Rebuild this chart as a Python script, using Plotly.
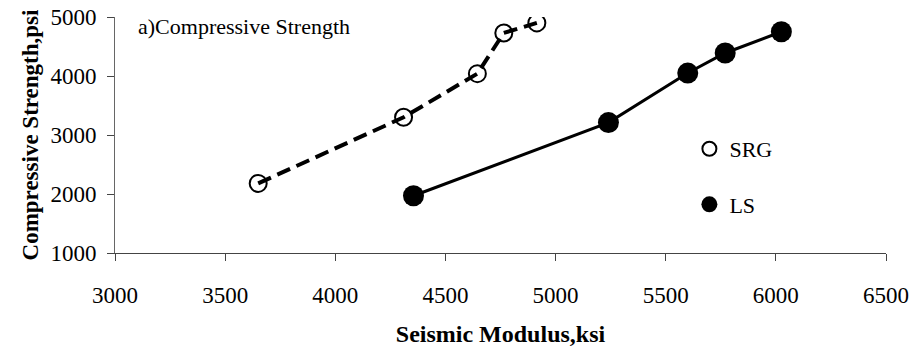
import plotly.graph_objects as go

# Seismic modulus (ksi) vs compressive strength (psi)
srg_modulus = [3650, 4310, 4645, 4765, 4915]
srg_strength = [2180, 3300, 4040, 4730, 4900]

ls_modulus = [4355, 5240, 5600, 5770, 6025]
ls_strength = [1970, 3210, 4050, 4390, 4750]

x_ticks = [3000, 3500, 4000, 4500, 5000, 5500, 6000, 6500]
y_ticks = [1000, 2000, 3000, 4000, 5000]

SERIF = "Liberation Serif, Times New Roman, serif"

fig = go.Figure()

# trend lines with measured points
fig.add_trace(go.Scatter(
    x=srg_modulus, y=srg_strength, mode="lines+markers", showlegend=False,
    line=dict(color="black", width=4, dash="14px,7px"),
    marker=dict(symbol="circle-open", size=17, color="black", line=dict(width=2)),
))
fig.add_trace(go.Scatter(
    x=ls_modulus, y=ls_strength, mode="lines+markers", showlegend=False,
    line=dict(color="black", width=3),
    marker=dict(symbol="circle", size=21, color="black"),
))

# legend entries (markers only)
fig.add_trace(go.Scatter(
    x=[None], y=[None], mode="markers", name="SRG", legendgroup="srg",
    marker=dict(symbol="circle-open", size=14, color="black", line=dict(width=2)),
))
fig.add_trace(go.Scatter(
    x=[None], y=[None], mode="markers", name="LS", legendgroup="ls",
    marker=dict(symbol="circle", size=17, color="black"),
))

fig.add_annotation(
    x=0.027, y=0.958, xref="paper", yref="paper", xanchor="left", yanchor="middle",
    text="a)Compressive Strength", showarrow=False,
    font=dict(family=SERIF, size=22, color="black"),
)

fig.update_layout(
    width=915, height=352,
    margin=dict(l=115, r=29, t=17, b=99),
    paper_bgcolor="white", plot_bgcolor="white",
    font=dict(family=SERIF, size=22, color="black"),
    legend=dict(
        x=0.745, y=0.53, xanchor="left", yanchor="top",
        bgcolor="rgba(0,0,0,0)", tracegroupgap=24,
        font=dict(family=SERIF, size=22, color="black"),
        itemwidth=30,
    ),
    xaxis=dict(
        range=[3000, 6500], tickvals=x_ticks, ticktext=[str(v) for v in x_ticks],
        showgrid=False, zeroline=False, automargin=False,
        showline=True, linecolor="#444", linewidth=1,
        ticks="outside", ticklen=7, tickcolor="#444",
        ticklabelstandoff=14,
        tickfont=dict(family=SERIF, size=23, color="black"),
        title=dict(text="<b>Seismic Modulus,ksi</b>", standoff=18,
                   font=dict(family=SERIF, size=24, color="black")),
    ),
    yaxis=dict(
        range=[1000, 5000], tickvals=y_ticks, ticktext=[str(v) for v in y_ticks],
        showgrid=False, zeroline=False, automargin=False,
        showline=True, linecolor="#666", linewidth=1,
        ticks="outside", ticklen=7, tickcolor="#444",
        ticklabelstandoff=6,
        tickfont=dict(family=SERIF, size=23, color="black"),
        title=dict(text="<b>Compressive Strength,psi</b>", standoff=5,
                   font=dict(family=SERIF, size=23, color="black")),
    ),
)

fig.write_html("out.html")
